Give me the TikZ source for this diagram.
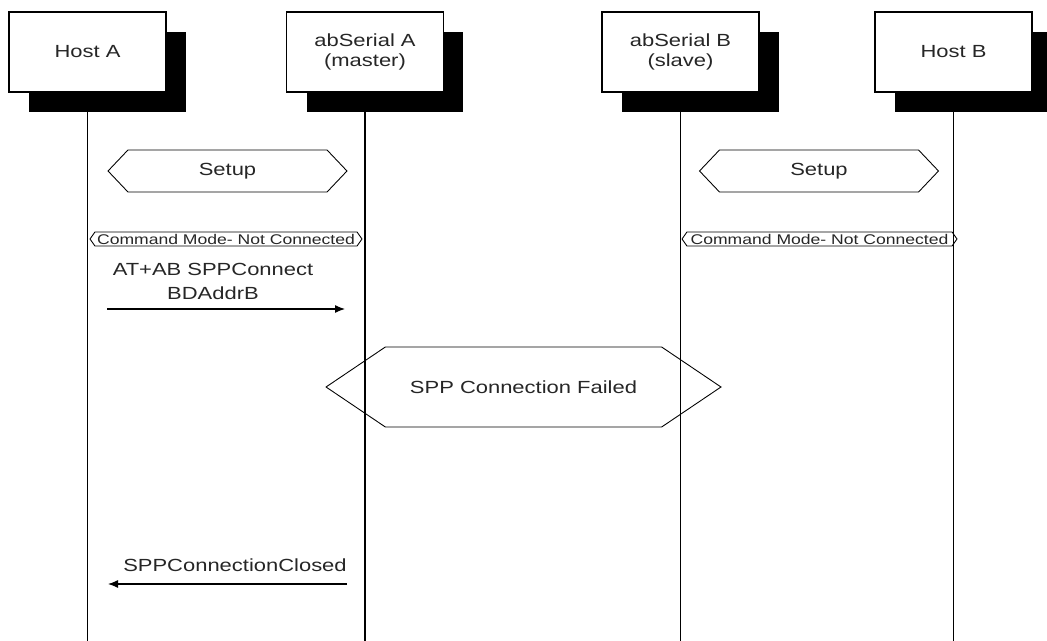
\documentclass[tikz,border=0pt]{standalone}
\usepackage{fontspec}
\setmainfont{Liberation Sans}[FakeStretch=1.25]
\usetikzlibrary{shapes.symbols,shadows,arrows.meta}
\begin{document}
\begin{tikzpicture}[x=0.02cm, y=-0.02cm,
    every node/.style={text=black!85, font=\fontsize{10}{11.4}\selectfont},
    actor/.style={draw, fill=white, line width=0.8pt, minimum width=3.14cm, minimum height=1.6cm, align=center,
        drop shadow={shadow xshift=0.4cm, shadow yshift=-0.4cm, fill=black, opacity=1}},
    phase/.style={draw, signal, signal to=west and east, line width=0.5pt, inner sep=0pt},
    life/.style={line width=0.8pt},
    msg/.style={-{Latex[length=2mm,width=1.6mm]}, line width=0.7pt}]
    \useasboundingbox (0,0) rectangle (1047,641);
    \clip (0,0) rectangle (1047,641);
    \coordinate (bot) at (0,641);

    \node[actor] (hostA) at (87.5,52) {Host A};
    \node[actor] (serA) at (365,52) {abSerial A\\(master)};
    \node[actor] (serB) at (680.5,52) {abSerial B\\(slave)};
    \node[actor] (hostB) at (953.5,52) {Host B};

    \draw[life] (hostA.south) -- (hostA.south |- bot);
    \draw[life] (serA.south) -- (serA.south |- bot);
    \draw[life] (serB.south) -- (serB.south |- bot);
    \draw[life] (hostB.south) -- (hostB.south |- bot);

    \node[phase, minimum width=4.78cm, minimum height=0.84cm, signal pointer angle=93] (setupA) at (227.5,171) {Setup};
    \node[phase, minimum width=4.78cm, minimum height=0.84cm, signal pointer angle=93] (setupB) at (819,171) {Setup};
    \node[phase, minimum width=5.44cm, minimum height=0.28cm, signal pointer angle=110, font=\fontsize{8}{9}\selectfont] (cmdA) at (226,239) {Command Mode- Not Connected};
    \node[phase, minimum width=5.5cm, minimum height=0.28cm, signal pointer angle=110, font=\fontsize{8}{9}\selectfont] (cmdB) at (819.5,239) {Command Mode- Not Connected};
    \node[phase, minimum width=7.9cm, minimum height=1.6cm, signal pointer angle=68] (fail) at (523.5,387) {SPP Connection Failed};

    \coordinate (m1s) at (107,309);
    \coordinate (m1e) at (345,309);
    \node[align=center, font=\fontsize{10}{13.7}\selectfont] (m1) at (213,281) {AT+AB SPPConnect\\BDAddrB};
    \draw[msg] (m1s) -- (m1e);

    \coordinate (m2s) at (347,584);
    \coordinate (m2e) at (108,584);
    \node (m2) at (235,565) {SPPConnectionClosed};
    \draw[msg] (m2s) -- (m2e);
\end{tikzpicture}
\end{document}
